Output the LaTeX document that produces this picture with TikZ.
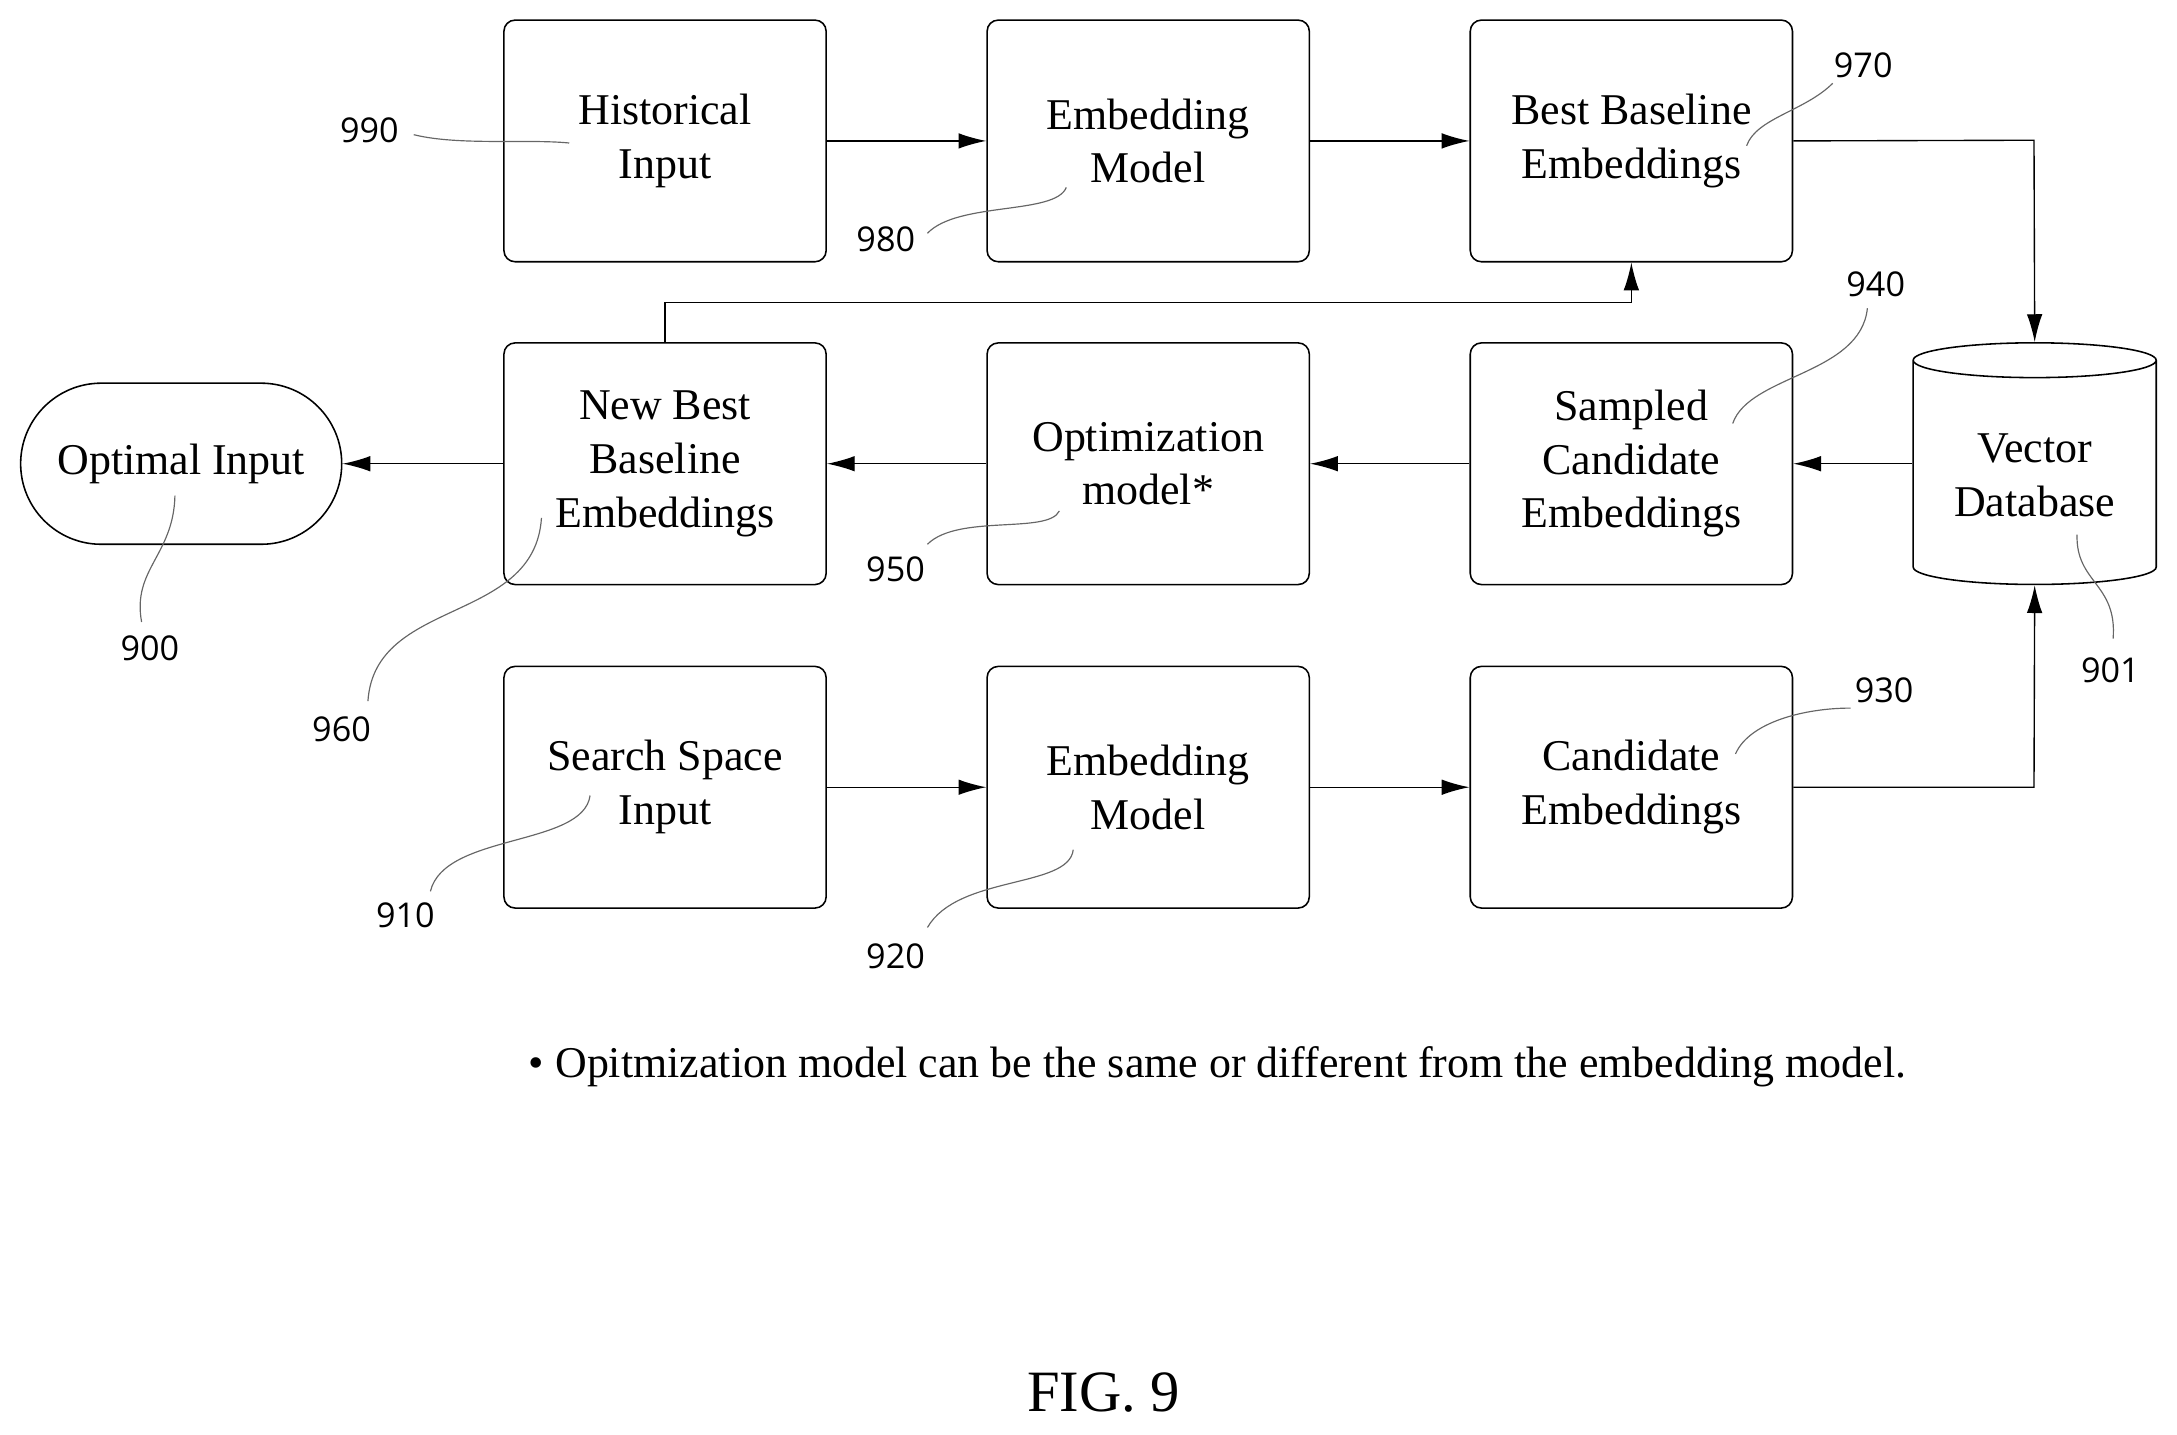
\documentclass[tikz,border=0pt]{standalone}
\usepackage{fontspec}
\setmainfont{Liberation Serif}
\newfontfamily\lab{Open Sans}
\usetikzlibrary{shapes.geometric,arrows.meta}
\begin{document}
\begin{tikzpicture}[x=0.025cm,y=-0.025cm,
 box/.style={draw,rounded corners=0.2cm,minimum width=5.8cm,minimum height=4.35cm,align=center,font=\fontsize{22.5}{27.5}\selectfont,line width=0.8pt},
 arr/.style={-{Latex[length=0.5cm,width=0.28cm]},line width=0.7pt},
 lead/.style={gray!80!black,line width=0.6pt},
 num/.style={font=\lab\fontsize{17.5}{20}\selectfont}]
\useasboundingbox (0,0) rectangle (1568,1033);
\node[box] (hist) at (479,101.5) {Historical\\Input};
\node[box] (emb1) at (827,101.5) {Embedding\\Model};
\node[box] (best) at (1175,101.5) {Best Baseline\\Embeddings};
\node[box] (newb) at (479,334) {New Best\\Baseline\\Embeddings};
\node[box] (opt) at (827,334) {Optimization\\model*};
\node[box] (samp) at (1175,334) {Sampled\\Candidate\\Embeddings};
\node[box] (srch) at (479,567) {Search Space\\Input};
\node[box] (emb2) at (827,567) {Embedding\\Model};
\node[box] (cand) at (1175,567) {Candidate\\Embeddings};
\node[draw,rounded corners=1.45cm,minimum width=5.78cm,minimum height=2.9cm,line width=0.8pt,font=\fontsize{22.5}{27.5}\selectfont] (optin) at (130.5,334) {Optimal Input};
\node[draw,cylinder,shape border rotate=90,aspect=0.2,minimum width=4.375cm,minimum height=4.35cm,align=center,line width=0.8pt,font=\fontsize{22.5}{27.5}\selectfont] (vdb) at (1465.5,342.5) {Vector\\Database};
\coordinate (c1) at (1465,101);
\coordinate (c2) at (1465,567);
\coordinate (u1) at (479,218);
\coordinate (u2) at (1175,218);
\draw[arr] (hist) -- (emb1);
\draw[arr] (emb1) -- (best);
\draw[arr] (best.east) -- (c1) -- (vdb.top);
\draw[arr] (vdb.west |- samp.east) -- (samp);
\draw[arr] (samp) -- (opt);
\draw[arr] (opt) -- (newb);
\draw[arr] (newb) -- (optin);
\draw[arr] (newb.north) -- (u1) -- (u2) -- (best.south);
\draw[arr] (srch) -- (emb2);
\draw[arr] (emb2) -- (cand);
\draw[arr] (cand.east) -- (c2) -- (vdb.bottom);
% labels
\node[num] (l990) at (266,94) {990};
\node[num] (l980) at (638,172) {980};
\node[num] (l970) at (1342,47) {970};
\node[num] (l940) at (1351,205) {940};
\node[num] (l950) at (645,410) {950};
\node[num] (l900) at (108,467) {900};
\node[num] (l960) at (246,525) {960};
\node[num] (l901) at (1520,483) {901};
\node[num] (l930) at (1357,497) {930};
\node[num] (l910) at (292,659) {910};
\node[num] (l920) at (645,689) {920};
\draw[lead] (298,97) .. controls (330,105) and (380,100) .. (410,103);
\draw[lead] (668,168) .. controls (690,145) and (760,155) .. (768,135);
\draw[lead] (1320,60) .. controls (1300,80) and (1265,85) .. (1258,105);
\draw[lead] (1345,222) .. controls (1340,270) and (1260,270) .. (1248,305);
\draw[lead] (668,392) .. controls (690,370) and (755,385) .. (763,368);
\draw[lead] (102,448) .. controls (95,410) and (125,400) .. (126,357);
\draw[lead] (265,505) .. controls (270,430) and (385,450) .. (390,373);
\draw[lead] (1522,460) .. controls (1525,420) and (1495,420) .. (1496,385);
\draw[lead] (1333,510) .. controls (1300,510) and (1260,520) .. (1250,543);
\draw[lead] (310,642) .. controls (320,600) and (420,610) .. (425,573);
\draw[lead] (668,668) .. controls (690,630) and (770,640) .. (773,612);
\node[anchor=west,font=\fontsize{22.5}{26}\selectfont] (note) at (376,768) {\textbullet\ Opitmization model can be the same or different from the embedding model.};
\node[font=\fontsize{30}{34}\selectfont] (fig) at (795,1003) {FIG. 9};
\end{tikzpicture}
\end{document}
